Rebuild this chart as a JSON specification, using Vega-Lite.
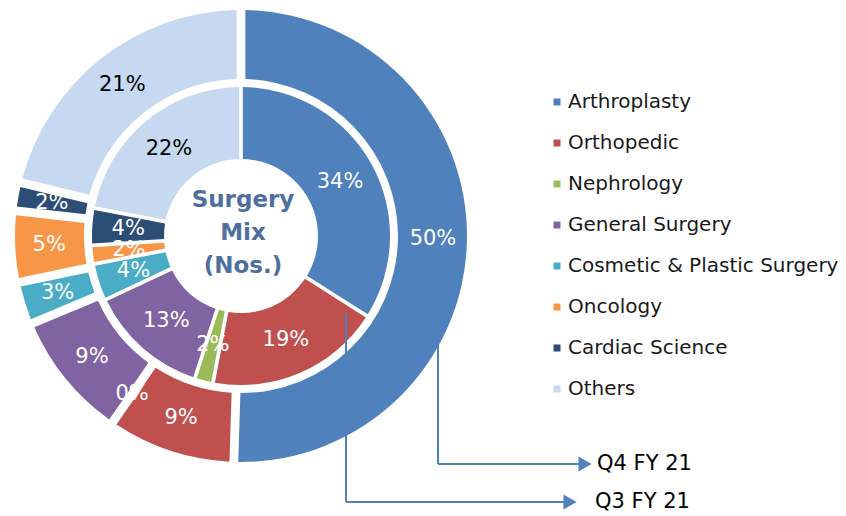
{
  "$schema": "https://vega.github.io/schema/vega-lite/v6.json",
  "width": 846,
  "height": 516,
  "padding": 0,
  "autosize": {"type": "none"},
  "background": "white",
  "config": {"view": {"stroke": null}, "font": "DejaVu Sans"},
  "datasets": {
    "mix": [
      {"quarter": "Q4 FY 21", "segment": "Arthroplasty", "order": 1, "pct": 50},
      {"quarter": "Q4 FY 21", "segment": "Orthopedic", "order": 2, "pct": 9},
      {"quarter": "Q4 FY 21", "segment": "Nephrology", "order": 3, "pct": 0},
      {"quarter": "Q4 FY 21", "segment": "General Surgery", "order": 4, "pct": 9},
      {"quarter": "Q4 FY 21", "segment": "Cosmetic & Plastic Surgery", "order": 5, "pct": 3},
      {"quarter": "Q4 FY 21", "segment": "Oncology", "order": 6, "pct": 5},
      {"quarter": "Q4 FY 21", "segment": "Cardiac Science", "order": 7, "pct": 2},
      {"quarter": "Q4 FY 21", "segment": "Others", "order": 8, "pct": 21},
      {"quarter": "Q3 FY 21", "segment": "Arthroplasty", "order": 1, "pct": 34},
      {"quarter": "Q3 FY 21", "segment": "Orthopedic", "order": 2, "pct": 19},
      {"quarter": "Q3 FY 21", "segment": "Nephrology", "order": 3, "pct": 2},
      {"quarter": "Q3 FY 21", "segment": "General Surgery", "order": 4, "pct": 13},
      {"quarter": "Q3 FY 21", "segment": "Cosmetic & Plastic Surgery", "order": 5, "pct": 4},
      {"quarter": "Q3 FY 21", "segment": "Oncology", "order": 6, "pct": 2},
      {"quarter": "Q3 FY 21", "segment": "Cardiac Science", "order": 7, "pct": 4},
      {"quarter": "Q3 FY 21", "segment": "Others", "order": 8, "pct": 22}
    ],
    "segments": [
      {"x": 438, "y": 343, "x2": 438, "y2": 464},
      {"x": 438, "y": 464, "x2": 580, "y2": 464},
      {"x": 346, "y": 313, "x2": 346, "y2": 502},
      {"x": 346, "y": 502, "x2": 565, "y2": 502}
    ],
    "heads": [
      {"x": 585, "y": 464},
      {"x": 570, "y": 502}
    ],
    "labels": [
      {"x": 597, "y": 464, "label": "Q4 FY 21"},
      {"x": 595, "y": 502, "label": "Q3 FY 21"}
    ]
  },
  "layer": [
    {
      "data": {"name": "mix"},
      "transform": [
        {"filter": "datum.quarter === 'Q4 FY 21'"},
        {"calculate": "datum.pct + '%'", "as": "label"}
      ],
      "encoding": {
        "x": {"datum": 241, "type": "quantitative", "scale": {"domain": [0, 846], "nice": false, "zero": false}, "axis": null},
        "y": {"datum": 236, "type": "quantitative", "scale": {"domain": [0, 516], "nice": false, "zero": false, "reverse": true}, "axis": null},
        "theta": {"field": "pct", "type": "quantitative", "stack": true},
        "order": {"field": "order", "type": "quantitative", "sort": "ascending"}
      },
      "layer": [
        {
          "mark": {"type": "arc", "radius": 226, "radius2": 157, "padAngle": 0.032},
          "encoding": {
            "color": {
              "field": "segment",
              "type": "nominal",
              "scale": {
                "domain": ["Arthroplasty", "Orthopedic", "Nephrology", "General Surgery", "Cosmetic & Plastic Surgery", "Oncology", "Cardiac Science", "Others"],
                "range": ["#4F81BD", "#C0504D", "#9BBB59", "#8064A2", "#4BACC6", "#F79646", "#2C4D75", "#C6D9F1"]
              },
              "legend": {
                "title": null,
                "orient": "none",
                "legendX": 547,
                "legendY": 92,
                "symbolType": "square",
                "symbolSize": 49,
                "symbolStrokeWidth": 0,
                "labelFontSize": 20,
                "labelColor": "#1a1a1a",
                "labelFont": "DejaVu Sans",
                "labelOffset": 1,
                "rowPadding": 21,
                "labelLimit": 400
              }
            }
          }
        },
        {
          "mark": {"type": "text", "radius": 192, "fontSize": 21, "font": "DejaVu Sans"},
          "encoding": {
            "text": {"field": "label", "type": "nominal"},
            "color": {"condition": {"test": "datum.segment === 'Others'", "value": "#000000"}, "value": "#ffffff"}
          }
        }
      ]
    },
    {
      "data": {"name": "mix"},
      "transform": [
        {"filter": "datum.quarter === 'Q3 FY 21'"},
        {"calculate": "datum.pct + '%'", "as": "label"}
      ],
      "encoding": {
        "x": {"datum": 241, "type": "quantitative"},
        "y": {"datum": 236, "type": "quantitative"},
        "theta": {"field": "pct", "type": "quantitative", "stack": true},
        "order": {"field": "order", "type": "quantitative", "sort": "ascending"}
      },
      "layer": [
        {
          "mark": {"type": "arc", "radius": 149, "radius2": 77, "padAngle": 0.022},
          "encoding": {
            "color": {"field": "segment", "type": "nominal"}
          }
        },
        {
          "mark": {"type": "text", "radius": 113, "fontSize": 21, "font": "DejaVu Sans"},
          "encoding": {
            "text": {"field": "label", "type": "nominal"},
            "color": {"condition": {"test": "datum.segment === 'Others'", "value": "#000000"}, "value": "#ffffff"}
          }
        }
      ]
    },
    {
      "data": {"values": [{"t": ["Surgery", "Mix", "(Nos.)"]}]},
      "mark": {"type": "text", "fontSize": 23, "fontWeight": "bold", "color": "#4E6F9E", "lineHeight": 33, "baseline": "middle", "align": "center"},
      "encoding": {
        "x": {"datum": 243, "type": "quantitative"},
        "y": {"datum": 200, "type": "quantitative"},
        "text": {"field": "t"}
      }
    },
    {
      "data": {"name": "segments"},
      "mark": {"type": "rule", "color": "#4F81BD", "strokeWidth": 2},
      "encoding": {
        "x": {"field": "x", "type": "quantitative"},
        "y": {"field": "y", "type": "quantitative"},
        "x2": {"field": "x2"},
        "y2": {"field": "y2"}
      }
    },
    {
      "data": {"name": "heads"},
      "mark": {"type": "point", "shape": "triangle-right", "filled": true, "size": 230, "color": "#4F81BD", "opacity": 1},
      "encoding": {
        "x": {"field": "x", "type": "quantitative"},
        "y": {"field": "y", "type": "quantitative"}
      }
    },
    {
      "data": {"name": "labels"},
      "mark": {"type": "text", "fontSize": 21, "align": "left", "baseline": "middle", "color": "#000000"},
      "encoding": {
        "x": {"field": "x", "type": "quantitative"},
        "y": {"field": "y", "type": "quantitative"},
        "text": {"field": "label"}
      }
    }
  ],
  "resolve": {"scale": {"theta": "independent"}}
}
